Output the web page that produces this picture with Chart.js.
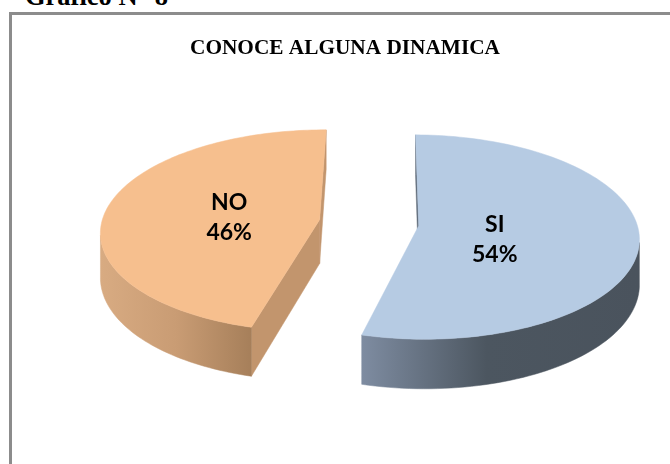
<!DOCTYPE html>
<html><head><meta charset="utf-8">
<style>
html,body{margin:0;padding:0;background:#fff;overflow:hidden}
#wrap{position:relative;width:670px;height:464px;overflow:hidden}
#frame{position:absolute;left:9px;top:12px;width:700px;height:500px;border:3px solid #8c8c8c;box-sizing:border-box}
#head{position:absolute;left:25px;top:-19px;font:bold 26.5px "Liberation Serif",serif;color:#000;white-space:pre}
canvas{position:absolute;left:0;top:0}
</style>
<script src="https://cdn.jsdelivr.net/npm/chart.js@4"></script>
</head><body>
<div id="wrap"><div id="frame"></div><div id="head">Gráfico N° 8</div>
<canvas id="c" width="670" height="464"></canvas></div>
<script>
const categories = ["SI", "NO"];
const values = [54, 46];
const chartTitle = "CONOCE ALGUNA DINAMICA";
const topColors = ["#b6cbe3", "#f6bf8e"];
const wallColors = ["#5f6b79", "#c2956d"];
const rimStops = [
  [[0, "#7e8ca1"], [0.45, "#4c5660"], [1, "#4a535d"]],
  [[0, "#d8ab82"], [0.5, "#c99c74"], [1, "#a67f5a"]]
];
const view = {shiftX: 24, persp: 2000, horizon: 920, wall: 44};

const pie3d = {
  id: "pie3d",
  beforeDatasetsDraw(chart) {
    const ctx = chart.ctx, arcs = chart.getDatasetMeta(0).data;
    const first = arcs[0];
    const vx = first.x + view.shiftX, cy = first.y;
    const k = Y => 1 / (1 - Y / view.persp);
    const proj = (X, Y, low) => {
      const K = k(Y);
      return [vx + (X - vx) * K, cy - view.horizon + (view.horizon + (low ? view.wall : 0)) * K];
    };
    const poly = (pts, fill) => {
      ctx.beginPath();
      pts.forEach((p, i) => i ? ctx.lineTo(p[0], p[1]) : ctx.moveTo(p[0], p[1]));
      ctx.closePath();
      ctx.fillStyle = fill;
      ctx.strokeStyle = fill;
      ctx.lineWidth = 0.5;
      ctx.fill();
      ctx.stroke();
    };
    const drawOrder = [1, 0];
    drawOrder.forEach(i => {
      const a = arcs[i], R = a.outerRadius, s = a.startAngle, e = a.endAngle;
      const mid = (s + e) / 2, off = a.options.offset;
      const ox = vx + Math.cos(mid) * off, oy = Math.sin(mid) * off;
      const at = t => [ox + Math.cos(t) * R, oy + Math.sin(t) * R];
      const N = 120, rim = [];
      for (let j = 0; j <= N; j++) rim.push(s + (e - s) * j / N);

      [[s, -1], [e, 1]].forEach(([t, sign]) => {
        const P = at(t);
        const nx = -Math.sin(t) * sign, ny = Math.cos(t) * sign;
        if (nx * (vx - P[0]) + ny * (view.persp - P[1]) > 0) {
          poly([proj(ox, oy), proj(P[0], P[1]), proj(P[0], P[1], true), proj(ox, oy, true)], wallColors[i]);
        }
      });

      const seen = rim.filter(t => {
        const P = at(t);
        return Math.cos(t) * (vx - P[0]) + Math.sin(t) * (view.persp - P[1]) > 0;
      });
      if (seen.length) {
        const upper = seen.map(t => proj(...at(t)));
        const lower = seen.map(t => proj(...at(t), true)).reverse();
        const pts = upper.concat(lower);
        const xs = pts.map(p => p[0]);
        const g = ctx.createLinearGradient(Math.min(...xs), 0, Math.max(...xs), 0);
        rimStops[i].forEach(st => g.addColorStop(st[0], st[1]));
        poly(pts, g);
      }

      const face = rim.map(t => proj(...at(t)));
      face.push(proj(ox, oy));
      poly(face, a.options.backgroundColor);
    });

    ctx.save();
    ctx.fillStyle = "#000";
    ctx.font = 'bold 23px Lato';
    ctx.textAlign = "center";
    ctx.textBaseline = "middle";
    arcs.forEach((a, i) => {
      const mid = (a.startAngle + a.endAngle) / 2;
      const x = vx - 7 + Math.cos(mid) * 134, y = cy + 6 + Math.cos(mid) * 11;
      ctx.fillText(categories[i], x, y - 15);
      ctx.fillText(values[i] + "%", x, y + 15);
    });
    ctx.restore();
    return false;
  }
};

new Chart(document.getElementById("c"), {
  type: "pie",
  data: {labels: categories, datasets: [{data: values, backgroundColor: topColors, borderWidth: 0, offset: 50}]},
  options: {
    responsive: false, animation: false, rotation: 0.5, radius: 218,
    layout: {padding: {left: 20, right: 0, top: 0, bottom: 80}},
    plugins: {
      legend: {display: false}, tooltip: {enabled: false},
      title: {display: true, text: chartTitle, color: "#000", align: "center",
        font: {family: "Liberation Serif", size: 21.3, weight: "bold"}, padding: {top: 36, bottom: 0}}
    }
  },
  plugins: [pie3d]
});
</script>
</body></html>
